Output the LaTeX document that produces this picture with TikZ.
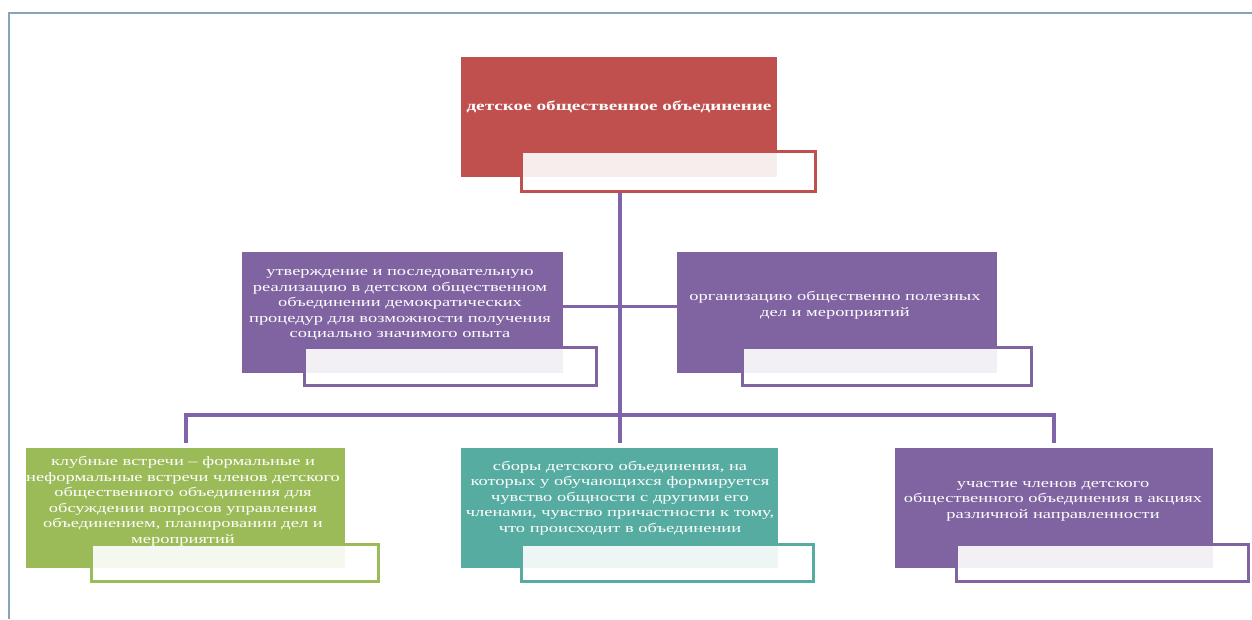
\documentclass[tikz,border=0pt]{standalone}
\usepackage{fontspec}
\setmainfont{Liberation Serif}
\newfontfamily\cardfont[FakeStretch=1.42]{Liberation Serif}
\definecolor{cred}{RGB}{192,80,77}
\definecolor{cpurple}{RGB}{128,100,162}
\definecolor{cgreen}{RGB}{155,187,89}
\definecolor{cteal}{RGB}{86,172,160}
\definecolor{cline}{RGB}{128,100,170}
\definecolor{cframe}{RGB}{135,165,185}
\tikzset{
  card/.style={rectangle, fill=#1, draw=none, inner sep=0pt},
  cardw/.style={rectangle, fill=white, fill opacity=0.9, draw=#1, line width=3pt, inner sep=0pt},
  cardtext/.style={text=white, align=center, font=\cardfont\fontsize{13}{15.5}\selectfont, inner sep=0pt},
  conn/.style={draw=cline, line width=4pt},
}
\begin{document}
\begin{tikzpicture}[x=1pt,y=-1pt]
\useasboundingbox (0,0) rectangle (1252,619);
\fill[white] (0,0) rectangle (1252,619);
\draw[cframe, line width=1.5pt] (9,619) -- (9,13) -- (1252,13);

\coordinate (mid) at (620,306);
\coordinate (bus) at (620,415);

% cards
\node[card=cred, minimum width=316pt, minimum height=120pt] (top) at (619,117) {};
\node[card=cpurple, minimum width=321pt, minimum height=121pt] (ml) at (402.5,312.5) {};
\node[card=cpurple, minimum width=320pt, minimum height=121pt] (mr) at (837,312.5) {};
\node[card=cgreen, minimum width=319pt, minimum height=120pt] (bl) at (185.5,508) {};
\node[card=cteal, minimum width=317pt, minimum height=120pt] (bm) at (619.5,508) {};
\node[card=cpurple, minimum width=318pt, minimum height=120pt] (br) at (1054,508) {};

\node[cardw=cred, minimum width=294pt, minimum height=40pt] (topw) at (668.5,171.5) {};
\node[cardw=cpurple, minimum width=292pt, minimum height=38pt] (mlw) at (450.5,366.5) {};
\node[cardw=cpurple, minimum width=289pt, minimum height=38pt] (mrw) at (887,366.5) {};
\node[cardw=cgreen, minimum width=287pt, minimum height=37pt] (blw) at (235,563) {};
\node[cardw=cteal, minimum width=292pt, minimum height=37pt] (bmw) at (667.5,563) {};
\node[cardw=cpurple, minimum width=292pt, minimum height=37pt] (brw) at (1102.5,563) {};

\draw[conn] (bm.north |- topw.south) -- ([yshift=5pt]bm.north);
\draw[conn] ([yshift=5pt]bl.north) |- (bus) -| ([yshift=5pt]br.north);
\draw[conn, line width=3pt] (ml.east |- mid) -- (mr.west |- mid);

% texts
\node[cardtext, font=\cardfont\bfseries\fontsize{13.5}{15.5}\selectfont] (topt) at (619,107) {детское общественное объединение};
\node[cardtext] (mlt) at (400,305) {утверждение и последовательную\\реализацию в детском общественном\\объединении демократических\\процедур для возможности получения\\социально значимого опыта};
\node[cardtext] (mrt) at (835,305) {организацию  общественно полезных\\дел и мероприятий};
\node[cardtext] (blt) at (183,501) {клубные встречи – формальные и\\неформальные встречи членов детского\\общественного объединения для\\обсуждении вопросов  управления\\объединением, планировании  дел и\\мероприятий};
\node[cardtext] (bmt) at (620,498) {сборы детского объединения, на\\которых у обучающихся формируется\\чувство общности с другими его\\членами, чувство причастности к тому,\\что происходит в объединении};
\node[cardtext] (brt) at (1053,501) {участие членов детского\\общественного объединения в акциях\\различной направленности};
\end{tikzpicture}
\end{document}
